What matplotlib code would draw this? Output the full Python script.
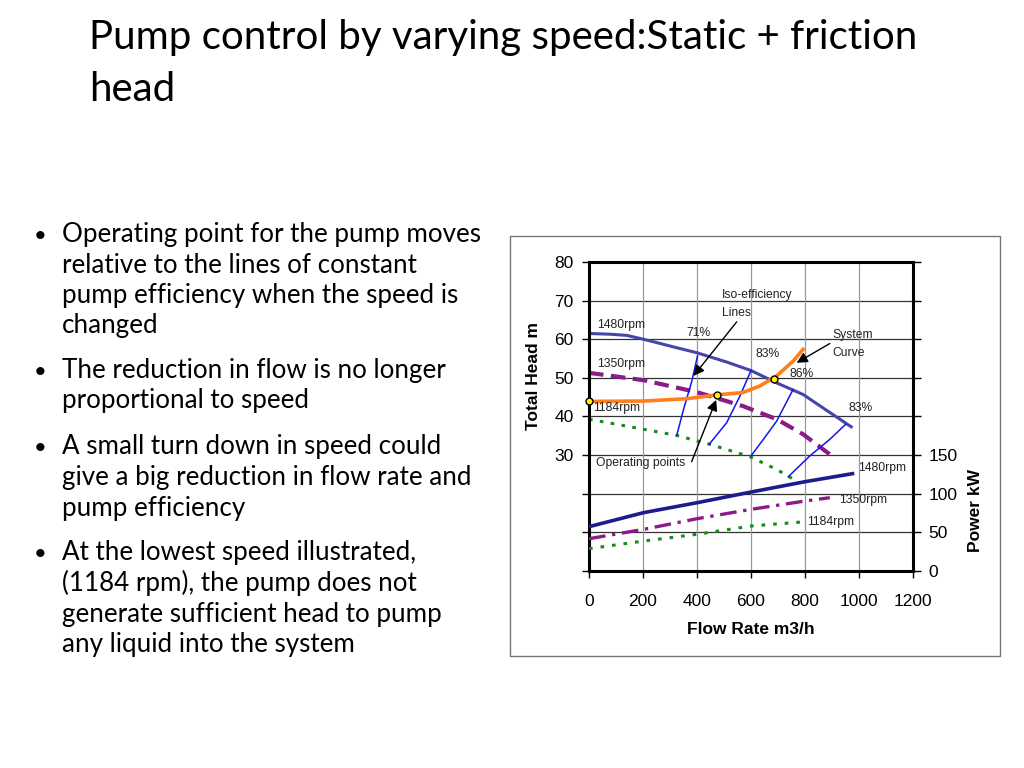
import matplotlib
matplotlib.use("Agg")
import matplotlib.pyplot as plt
from matplotlib.patches import Rectangle

# ---------------- data ----------------
title_lines = ["Pump control by varying speed:Static + friction", "head"]
bullets = [
    ["Operating point for the pump moves", "relative to the lines of constant",
     "pump efficiency when the speed is", "changed"],
    ["The reduction in flow is no longer", "proportional to speed"],
    ["A small turn down in speed could", "give a big reduction in flow rate and",
     "pump efficiency"],
    ["At the lowest speed illustrated,", "(1184 rpm), the pump does not",
     "generate sufficient head to pump", "any liquid into the system"],
]

# head curves (flow m3/h, head m)
h1480_x = [0, 79, 140, 202, 325, 400, 510, 600, 695, 793, 880, 976]
h1480_y = [61.5, 61.3, 61.0, 60.0, 57.8, 56.5, 54.1, 51.9, 48.7, 45.7, 41.6, 37.1]
h1350_x = [0, 202, 400, 570, 695, 793, 892]
h1350_y = [51.3, 49.4, 46.3, 42.7, 39.3, 35.4, 30.2]
h1184_x = [0, 140, 325, 448, 596, 695, 769]
h1184_y = [39.3, 37.5, 35.1, 32.8, 29.6, 26.3, 23.3]
sys_x = [0, 202, 362, 473, 570, 633, 695, 757, 793]
sys_y = [43.9, 44.0, 44.6, 45.6, 46.2, 47.9, 50.5, 54.4, 57.4]
op_x = [0, 474, 686]
op_y = [43.9, 45.6, 49.8]

# iso-efficiency lines
iso_lines = [
    ([325, 350, 381, 402], [35.1, 41.8, 49.2, 55.7]),
    ([445, 510, 559, 600], [32.8, 38.4, 45.3, 51.9]),
    ([600, 646, 695, 756], [29.8, 34.1, 38.8, 47.0]),
    ([738, 818, 892, 951], [24.4, 29.8, 34.1, 38.0]),
]

# power curves (flow m3/h, power kW)
p1480_x = [0, 202, 400, 600, 800, 976]
p1480_y = [57.4, 75.5, 88.4, 102.2, 115.6, 126.0]
p1350_x = [0, 202, 400, 600, 800, 892]
p1350_y = [41.8, 53.9, 67.7, 79.8, 90.6, 94.9]
p1184_x = [0, 202, 400, 600, 800]
p1184_y = [28.9, 38.8, 47.5, 58.2, 63.8]

x_ticks = [0, 200, 400, 600, 800, 1000, 1200]
head_ticks = [30, 40, 50, 60, 70, 80]
power_ticks = [0, 50, 100, 150]

# ---------------- figure ----------------
W, H = 1024, 768
fig = plt.figure(figsize=(W / 100, H / 100), dpi=100)
fig.patch.set_facecolor("white")
renderer = fig.canvas.get_renderer()

def fx(px):
    return px / W

def fy(py):
    return 1 - py / H

def fit_size(text, target_w, family, base=20, **kw):
    t = fig.text(0, 0, text, fontsize=base, family=family, **kw)
    w = t.get_window_extent(renderer).width
    t.remove()
    return base * target_w / w

slide_font = ["Lato", "DejaVu Sans"]
chart_font = ["Liberation Sans", "DejaVu Sans"]

# title
ts = fit_size(title_lines[0], 829, slide_font)
fig.text(fx(89), fy(49), title_lines[0], fontsize=ts, family=slide_font,
         va="baseline", ha="left", color="black")
fig.text(fx(89), fy(100.7), title_lines[1], fontsize=ts, family=slide_font,
         va="baseline", ha="left", color="black")

# bullets
bs = fit_size(bullets[0][0], 420, slide_font)
baselines = [[241.7, 272.7, 303.3, 333.3], [377.7, 408.3],
             [454, 485, 515.7], [560, 590.7, 621.7, 652.3]]
for para, bls in zip(bullets, baselines):
    fig.text(fx(40), fy(bls[0]), "•", fontsize=bs * 0.85, family=slide_font,
             va="baseline", ha="center")
    for line, b in zip(para, bls):
        fig.text(fx(62), fy(b), line, fontsize=bs, family=slide_font,
                 va="baseline", ha="left")

# chart box
fig.patches.append(Rectangle((fx(510), fy(656)), fx(1000) - fx(510), fy(236) - fy(656),
                             transform=fig.transFigure, fill=False,
                             edgecolor="#777777", lw=1.0, zorder=0))

# axes
ax = fig.add_axes([fx(589), fy(571), fx(913) - fx(589), fy(262) - fy(571)])
ax.set_xlim(0, 1200)
ax.set_ylim(0, 80)
ax.set_facecolor("white")
for y in range(10, 80, 10):
    ax.axhline(y, color="#333333", lw=0.9, zorder=1)
for x in x_ticks[1:-1]:
    ax.axvline(x, color="#999999", lw=0.9, zorder=1)
for s in ax.spines.values():
    s.set_linewidth(2.2)
    s.set_color("black")
    s.set_zorder(5)

ax.set_xticks(x_ticks)
ax.set_xticklabels([str(v) for v in x_ticks])
ax.set_yticks([0, 10, 20] + head_ticks)
ax.set_yticklabels(["", "", ""] + [str(v) for v in head_ticks])
ax.tick_params(axis="both", direction="out", length=5, width=1.0, color="black",
               labelsize=12.5, pad=6)
ax.tick_params(axis="x", pad=11.5)
for lab in ax.get_xticklabels() + ax.get_yticklabels():
    lab.set_family(chart_font)

ax2 = ax.twinx()
ax2.set_ylim(0, 400)
ax2.set_yticks([0, 50, 100, 150, 200, 250, 300, 350, 400])
ax2.set_yticklabels([str(v) if v in power_ticks else "" for v in
                     [0, 50, 100, 150, 200, 250, 300, 350, 400]])
ax2.tick_params(axis="y", direction="out", length=6, width=1.0, labelsize=12.5, pad=5)
for lab in ax2.get_yticklabels():
    lab.set_family(chart_font)
for s in ax2.spines.values():
    s.set_visible(False)

# head curves
ax.plot(h1480_x, h1480_y, color="#4646A8", lw=2.2, zorder=3, solid_capstyle="butt")
ax.plot(h1350_x, h1350_y, color="#8B1A8B", lw=3.0, dashes=(3.5, 1.8), zorder=3)
ax.plot(h1184_x, h1184_y, color="#1A8A1A", lw=2.2, dashes=(1.2, 2.4), zorder=3)
for xs, ys in iso_lines:
    ax.plot(xs, ys, color="#1414F0", lw=1.1, zorder=3)
ax.plot(sys_x, sys_y, color="#FF7F1A", lw=2.6, zorder=4)
ax.plot(op_x, op_y, ls="none", marker="o", ms=5, mfc="#FFF200", mec="black",
        mew=1.0, zorder=6, clip_on=False)

# power curves
ax2.plot(p1480_x, p1480_y, color="#1C1C8C", lw=2.6, zorder=3)
ax2.plot(p1350_x, p1350_y, color="#8B1A8B", lw=2.4, dashes=(5, 2, 1, 2), zorder=3)
ax2.plot(p1184_x, p1184_y, color="#1A8A1A", lw=2.2, dashes=(1.2, 2.6), zorder=3)

# labels inside chart
fs = 8.7
def lab(x, y, s, a=ax, ha="left"):
    a.text(x, y, s, fontsize=fs, family=chart_font, ha=ha, va="center",
           color="#222222", zorder=7)

lab(30, 63.6, "1480rpm")
lab(30, 53.5, "1350rpm")
lab(15, 42.3, "1184rpm")
lab(405, 61.7, "71%", ha="center")
lab(492, 71.4, "Iso-efficiency")
lab(492, 66.9, "Lines")
lab(617, 56.1, "83%")
lab(742, 50.9, "86%")
lab(960, 42.3, "83%")
lab(900, 61.0, "System")
lab(900, 56.5, "Curve")
lab(27, 28.0, "Operating points")
lab(997, 26.6, "1480rpm")
lab(926, 18.5, "1350rpm")
lab(809, 12.8, "1184rpm")

arrow = dict(arrowstyle="-|>", color="black", lw=1.0, mutation_scale=16,
             shrinkA=0, shrinkB=0)
ax.annotate("", xy=(387, 50.5), xytext=(547, 64.5), arrowprops=arrow, zorder=7)
ax.annotate("", xy=(471, 44.3), xytext=(380, 28.3), arrowprops=arrow, zorder=7)
ax.annotate("", xy=(769, 53.9), xytext=(892, 58.9), arrowprops=arrow, zorder=7)

# axis titles
fig.text(fx(533), fy(376), "Total Head m", rotation=90, fontsize=12.5,
         fontweight="bold", family=chart_font, ha="center", va="center")
fig.text(fx(975), fy(510), "Power kW", rotation=90, fontsize=12.5,
         fontweight="bold", family=chart_font, ha="center", va="center")
fig.text(fx(751), fy(630), "Flow Rate m3/h", fontsize=12.5,
         fontweight="bold", family=chart_font, ha="center", va="center")

fig.savefig("out.png", dpi=100, facecolor="white")
